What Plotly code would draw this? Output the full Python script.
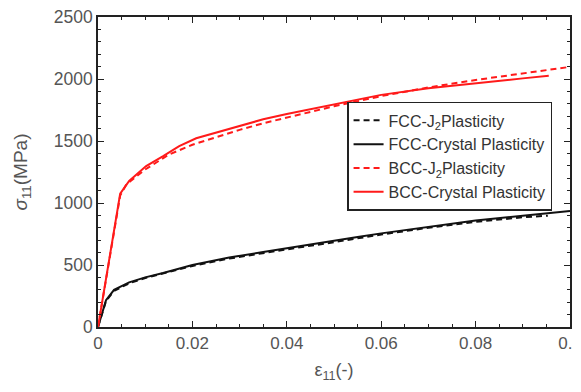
import plotly.graph_objects as go

# FCC - J2 plasticity (black dashed)
fcc_j2_x = [0, 0.0017, 0.0034, 0.0066, 0.01, 0.0138, 0.02, 0.0278, 0.035, 0.042, 0.049, 0.055, 0.06, 0.07, 0.08, 0.09, 0.0953]
fcc_j2_y = [0, 210, 292, 352, 395, 430, 492, 552, 598, 638, 678, 716, 746, 800, 848, 885, 898]

# FCC - Crystal plasticity (black solid)
fcc_cp_x = [0, 0.0017, 0.0034, 0.0066, 0.01, 0.0138, 0.02, 0.0278, 0.035, 0.042, 0.049, 0.055, 0.06, 0.07, 0.08, 0.09, 0.1]
fcc_cp_y = [0, 216, 300, 360, 400, 435, 500, 560, 605, 645, 685, 725, 755, 808, 858, 898, 935]

# BCC - J2 plasticity (red dashed)
bcc_j2_x = [0, 0.0047, 0.006, 0.01, 0.015, 0.02, 0.025, 0.03, 0.035, 0.04, 0.05, 0.06, 0.07, 0.08, 0.09, 0.1]
bcc_j2_y = [0, 1060, 1150, 1270, 1390, 1470, 1530, 1590, 1643, 1690, 1780, 1862, 1932, 1992, 2046, 2098]

# BCC - Crystal plasticity (red solid)
bcc_cp_x = [0, 0.0047, 0.0066, 0.0102, 0.0138, 0.0172, 0.0208, 0.0244, 0.03, 0.035, 0.04, 0.05, 0.06, 0.07, 0.08, 0.09, 0.0955]
bcc_cp_y = [0, 1075, 1178, 1298, 1378, 1458, 1522, 1562, 1625, 1675, 1718, 1795, 1872, 1925, 1968, 2005, 2027]

names = ["FCC-J<sub>2</sub>Plasticity", "FCC-Crystal Plasticity",
         "BCC-J<sub>2</sub>Plasticity", "BCC-Crystal Plasticity"]

x_ticks = [0, 0.02, 0.04, 0.06, 0.08, 0.1]
x_tick_text = ["0", "0.02", "0.04", "0.06", "0.08", "0.1"]
y_ticks = [0, 500, 1000, 1500, 2000, 2500]
y_tick_text = ["0", "500", "1000", "1500", "2000", "2500"]

fig = go.Figure()
fig.add_trace(go.Scatter(x=fcc_j2_x, y=fcc_j2_y, mode="lines", name=names[0],
                         line=dict(color="#111111", width=2, dash="6px,4px")))
fig.add_trace(go.Scatter(x=fcc_cp_x, y=fcc_cp_y, mode="lines", name=names[1],
                         line=dict(color="#111111", width=2)))
fig.add_trace(go.Scatter(x=bcc_j2_x, y=bcc_j2_y, mode="lines", name=names[2],
                         line=dict(color="#ff1a1a", width=2, dash="6px,4px")))
fig.add_trace(go.Scatter(x=bcc_cp_x, y=bcc_cp_y, mode="lines", name=names[3],
                         line=dict(color="#ff1a1a", width=2)))

font_family = "Liberation Sans, Arial, sans-serif"

fig.update_layout(
    width=573, height=376,
    margin=dict(l=90, r=11, t=9, b=57),
    paper_bgcolor="white", plot_bgcolor="white",
    font=dict(family=font_family, color="#555555"),
    showlegend=True,
    legend=dict(
        x=0.962, y=0.726, xanchor="right", yanchor="top",
        bgcolor="white", bordercolor="#222222", borderwidth=1.5,
        font=dict(size=16, color="#333333", family=font_family),
        tracegroupgap=0, itemwidth=30,
    ),
    xaxis=dict(
        range=[0, 0.1], tickvals=x_ticks, ticktext=x_tick_text,
        showgrid=False, zeroline=False, automargin=False,
        ticklabeloverflow="allow",
        showline=True, linecolor="#222222", linewidth=1.5, mirror="ticks",
        ticks="inside", ticklen=6, tickwidth=1.2, tickcolor="#222222",
        tickfont=dict(size=17, color="#555555"),
        minor=dict(dtick=0.005, ticks="inside", ticklen=3, tickcolor="#222222", tickwidth=1),
        title=dict(text="ε<sub>11</sub>(-)", font=dict(size=18, color="#555555"), standoff=11),
    ),
    yaxis=dict(
        range=[0, 2500], tickvals=y_ticks, ticktext=y_tick_text,
        showgrid=False, zeroline=False, automargin=False,
        ticklabeloverflow="allow",
        showline=True, linecolor="#222222", linewidth=1.5, mirror="ticks",
        ticks="inside", ticklen=6, tickwidth=1.2, tickcolor="#222222",
        tickfont=dict(size=17.5, color="#555555"),
        minor=dict(dtick=100, ticks="inside", ticklen=3, tickcolor="#222222", tickwidth=1),
        title=dict(text="<i>σ</i><sub>11</sub>(MPa)", font=dict(size=19, color="#555555"), standoff=21),
    ),
)

fig.write_html("out.html")
